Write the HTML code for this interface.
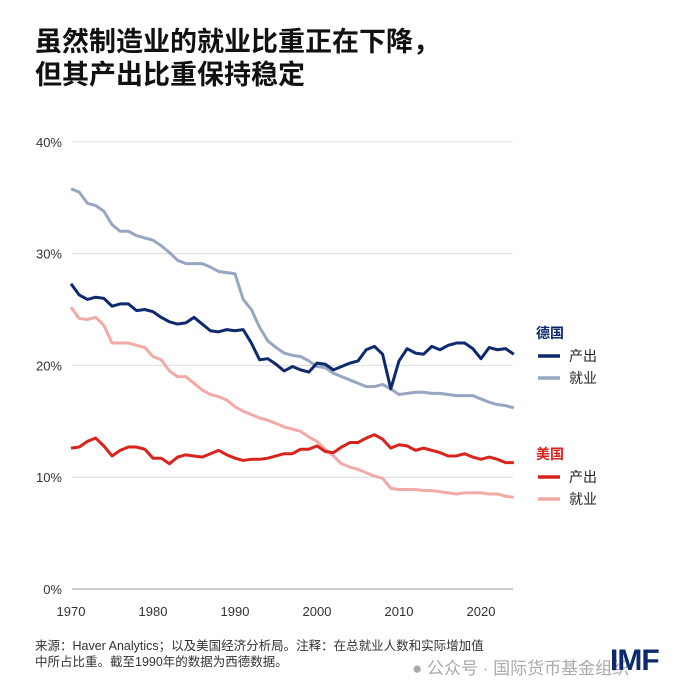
<!DOCTYPE html>
<html><head><meta charset="utf-8"><style>
body{margin:0;background:#fff;}
#w{position:relative;width:700px;height:700px;overflow:hidden;font-family:"Liberation Sans","Noto Sans CJK SC",sans-serif;background:#fff;}
.t{position:absolute;white-space:nowrap;}
</style></head><body>
<div id="w">
<div class="t" style="left:35px;top:26px;font-size:27px;font-weight:bold;line-height:33px;color:#111;">虽然制造业的就业比重正在下降，<br>但其产出比重保持稳定</div>
<svg id="c" width="700" height="700" style="position:absolute;left:0;top:0"></svg>
<div class="t" style="left:35px;top:638px;font-size:12.5px;line-height:16px;color:#333;">来源：Haver Analytics；以及美国经济分析局。注释：在总就业人数和实际增加值<br>中所占比重。截至1990年的数据为西德数据。</div>
<div class="t" style="left:412px;top:654px;font-size:17px;color:#aaa;">● 公众号 · 国际货币基金组织</div>
<div class="t" style="left:610px;top:644px;font-size:30px;font-weight:bold;color:#0d2a6e;letter-spacing:-1px;">IMF</div>
</div>
<script>
const years=[];for(let y=1970;y<=2024;y++)years.push(y);
const deOutput=[27.3,26.3,25.9,26.1,26.0,25.3,25.5,25.5,24.9,25.0,24.8,24.3,23.9,23.7,23.8,24.3,23.7,23.1,23.0,23.2,23.1,23.2,22.0,20.5,20.6,20.1,19.5,19.9,19.6,19.4,20.2,20.1,19.6,19.9,20.2,20.4,21.4,21.7,21.0,17.9,20.4,21.5,21.1,21.0,21.7,21.4,21.8,22.0,22.0,21.5,20.6,21.6,21.4,21.5,21.0];
const deEmployment=[35.8,35.5,34.5,34.3,33.8,32.6,32.0,32.0,31.6,31.4,31.2,30.7,30.1,29.4,29.1,29.1,29.1,28.8,28.4,28.3,28.2,25.9,25.0,23.4,22.2,21.6,21.1,20.9,20.8,20.4,19.9,19.8,19.3,19.0,18.7,18.4,18.1,18.1,18.3,17.9,17.4,17.5,17.6,17.6,17.5,17.5,17.4,17.3,17.3,17.3,17.0,16.7,16.5,16.4,16.2];
const usOutput=[12.6,12.7,13.2,13.5,12.8,11.9,12.4,12.7,12.7,12.5,11.7,11.7,11.2,11.8,12.0,11.9,11.8,12.1,12.4,12.0,11.7,11.5,11.6,11.6,11.7,11.9,12.1,12.1,12.5,12.5,12.8,12.3,12.2,12.7,13.1,13.1,13.5,13.8,13.4,12.6,12.9,12.8,12.4,12.6,12.4,12.2,11.9,11.9,12.1,11.8,11.6,11.8,11.6,11.3,11.3];
const usEmployment=[25.2,24.2,24.1,24.3,23.6,22.0,22.0,22.0,21.8,21.6,20.8,20.5,19.5,19.0,19.0,18.4,17.8,17.4,17.2,16.9,16.3,15.9,15.6,15.3,15.1,14.8,14.5,14.3,14.1,13.6,13.2,12.5,11.9,11.2,10.9,10.7,10.4,10.1,9.9,9.0,8.9,8.9,8.9,8.8,8.8,8.7,8.6,8.5,8.6,8.6,8.6,8.5,8.5,8.3,8.2];
const yTicks=[0,10,20,30,40];
const yTickLabels=["0%","10%","20%","30%","40%"];
const xTicks=[1970,1980,1990,2000,2010,2020];
const NS="http://www.w3.org/2000/svg";
const svg=document.getElementById('c');
const X=y=>71+(y-1970)*8.2;
const Y=v=>589-v*11.18;
function mk(t,a){const e=document.createElementNS(NS,t);for(const k in a)e.setAttribute(k,a[k]);svg.appendChild(e);return e;}
yTicks.forEach((v,i)=>{
 const l=mk('line',{x1:72,x2:513,y1:Y(v),y2:Y(v),stroke:v===0?'#999':'#ddd','stroke-width':1});
 
 
 const t=mk('text',{x:62,y:Y(v)+5,'text-anchor':'end','font-size':13,fill:'#333'});
 t.textContent=yTickLabels[i];
 
 
});
xTicks.forEach(v=>{
 const t=mk('text',{x:X(v),y:616,'text-anchor':'middle','font-size':13,fill:'#333'});
 t.textContent=v;
 
 
});
const series=[[deEmployment,'#98a6c4','germany-employment-line'],[usEmployment,'#f2aaa6','us-employment-line'],[usOutput,'#d9231d','us-output-line'],[deOutput,'#0d2a6e','germany-output-line']];
series.forEach(([d,c,n])=>{
 const p=mk('polyline',{points:d.map((v,i)=>X(years[i])+','+Y(v)).join(' '),fill:'none',stroke:c,'stroke-width':3,'stroke-linejoin':'round'});
 
 
});
const legend=[['德国',333,'#0d2a6e',null],['产出',356,'#0d2a6e','line'],['就业',378,'#98a6c4','line'],['美国',454,'#d9231d',null],['产出',477,'#d9231d','line'],['就业',499,'#f2aaa6','line']];
legend.forEach(([txt,y,c,k])=>{
 if(k){
  const l=mk('line',{x1:538,x2:560,y1:y,y2:y,stroke:c,'stroke-width':3.5});
  
  
  const t=mk('text',{x:569,y:y+5,'font-size':14,fill:'#222'});t.textContent=txt;
  
  
 }else{
  const t=mk('text',{x:536,y:y+5,'font-size':14,'font-weight':'bold',fill:c});t.textContent=txt;
  
  
 }
});
</script>
</body></html>
